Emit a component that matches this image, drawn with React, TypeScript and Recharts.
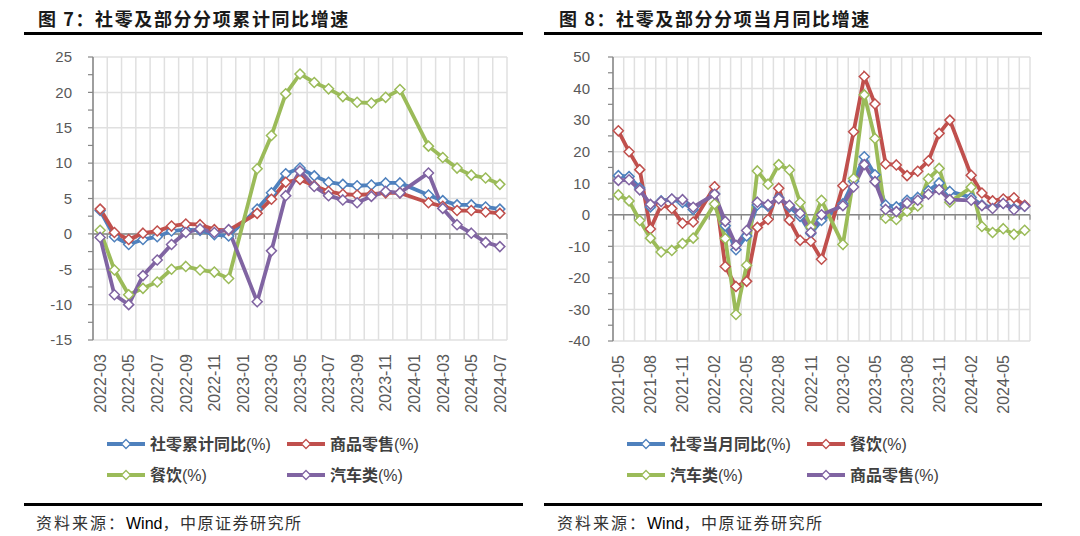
import React from 'react';
import { LineChart, Line, XAxis, YAxis, CartesianGrid, ReferenceLine, Legend } from 'recharts';

// 图7：累计同比（1月无单独数据，留空连线）
const monthsCum = [
  '2022-03', '2022-04', '2022-05', '2022-06', '2022-07', '2022-08', '2022-09', '2022-10', '2022-11', '2022-12',
  '2023-01', '2023-02', '2023-03', '2023-04', '2023-05', '2023-06', '2023-07', '2023-08', '2023-09', '2023-10',
  '2023-11', '2023-12', '2024-01', '2024-02', '2024-03', '2024-04', '2024-05', '2024-06', '2024-07',
];
const retailCum = [3.3, -0.4, -1.5, -0.8, -0.4, 0.4, 0.6, 0.5, -0.1, -0.3, null, 3.5, 5.8, 8.5, 9.3, 8.2, 7.3, 7.0, 6.8, 6.9, 7.2, 7.2, null, 5.5, 4.7, 4.1, 4.1, 3.8, 3.5];
const goodsCum = [3.5, 0.2, -0.8, 0.1, 0.4, 1.1, 1.4, 1.3, 0.6, 0.5, null, 2.9, 4.9, 7.3, 7.7, 6.8, 6.0, 5.6, 5.5, 5.6, 5.8, 5.8, null, 4.4, 3.9, 3.3, 3.3, 3.1, 2.9];
const cateringCum = [0.5, -5.1, -8.6, -7.7, -6.8, -5.0, -4.6, -5.1, -5.4, -6.3, null, 9.2, 13.9, 19.8, 22.6, 21.4, 20.5, 19.4, 18.6, 18.5, 19.3, 20.4, null, 12.4, 10.8, 9.3, 8.3, 7.9, 7.0];
const autoCum = [-0.5, -8.6, -10.0, -5.9, -3.7, -1.5, 0.2, 0.7, 0.2, 0.6, null, -9.6, -2.4, 5.4, 8.9, 6.7, 5.4, 4.8, 4.4, 5.3, 6.0, 5.8, null, 8.6, 3.6, 1.3, 0.1, -1.2, -1.8];

// 图8：当月同比
const monthsMon = [
  '2021-05', '2021-06', '2021-07', '2021-08', '2021-09', '2021-10', '2021-11', '2021-12',
  '2022-01', '2022-02', '2022-03', '2022-04', '2022-05', '2022-06', '2022-07', '2022-08', '2022-09', '2022-10', '2022-11', '2022-12',
  '2023-01', '2023-02', '2023-03', '2023-04', '2023-05', '2023-06', '2023-07', '2023-08', '2023-09', '2023-10', '2023-11', '2023-12',
  '2024-01', '2024-02', '2024-03', '2024-04', '2024-05', '2024-06', '2024-07',
];
const retailMon = [12.4, 12.1, 8.5, 2.5, 4.4, 4.9, 3.9, 1.7, null, 6.7, -3.5, -11.1, -6.7, 3.1, 2.7, 5.4, 2.5, -0.5, -5.9, -1.8, null, 3.5, 10.6, 18.4, 12.7, 3.1, 2.5, 4.6, 5.5, 7.6, 10.1, 7.4, null, 5.5, 3.1, 2.3, 3.7, 2.0, 2.7];
const cateringMon = [26.6, 20.0, 14.3, -4.5, 3.1, 2.0, -2.7, -2.3, null, 8.9, -16.4, -22.7, -21.1, -4.0, -1.5, 8.4, -1.7, -8.1, -8.4, -14.1, null, 9.2, 26.3, 43.8, 35.1, 16.1, 15.8, 12.4, 13.8, 17.1, 25.8, 30.0, null, 12.5, 6.9, 4.4, 5.0, 5.4, 3.0];
const autoMon = [6.3, 4.4, -1.8, -7.4, -11.8, -11.3, -9.1, -7.4, null, 3.4, -7.5, -31.6, -16.0, 13.9, 9.7, 15.9, 14.2, 3.9, -3.9, 4.6, null, -9.4, 11.5, 38.0, 24.2, -1.1, -1.5, 1.1, 2.8, 11.4, 14.7, 4.0, null, 8.7, -3.7, -5.6, -4.4, -6.2, -4.9];
const goodsMon = [10.9, 11.1, 7.9, 3.3, 4.2, 5.0, 4.8, 2.4, null, 6.5, -2.1, -9.7, -5.0, 4.0, 3.2, 5.1, 3.0, 0.5, -5.6, 0.0, null, 2.9, 8.8, 15.9, 10.5, 1.7, 1.0, 3.7, 4.6, 6.5, 8.0, 4.8, null, 4.6, 2.9, 2.0, 3.6, 1.6, 2.7];

const leftYTicks = [-15, -12.5, -10, -7.5, -5, -2.5, 0, 2.5, 5, 7.5, 10, 12.5, 15, 17.5, 20, 22.5, 25];
const leftYLabels = [-15, -10, -5, 0, 5, 10, 15, 20, 25];
const rightYTicks = [-40, -35, -30, -25, -20, -15, -10, -5, 0, 5, 10, 15, 20, 25, 30, 35, 40, 45, 50];
const rightYLabels = [-40, -30, -20, -10, 0, 10, 20, 30, 40, 50];

const BLUE = '#4f81bd';
const RED = '#c0504d';
const GREEN = '#9bbb59';
const PURPLE = '#8064a2';

const CJK = '"Noto Sans CJK SC", "Noto Sans", sans-serif';
const LATIN = '"Liberation Sans", Arial, sans-serif';
const AXIS_GRAY = '#868686';
const LABEL_GRAY = '#595959';

type Series = { name: string; color: string; values: (number | null)[] };

const diamond = (color: string) => (p: any) => {
  const { cx, cy, index, value } = p;
  if (cx == null || cy == null || value == null) return <g key={`n-${index}`} />;
  const r = 5;
  return (
    <path
      key={`d-${index}`}
      d={`M${cx},${cy - r}L${cx + r},${cy}L${cx},${cy + r}L${cx - r},${cy}Z`}
      fill="#fff"
      stroke={color}
      strokeWidth={1.5}
    />
  );
};

const xTick = (labels: string[]) => (p: any) => {
  const { x, y, payload } = p;
  return (
    <text
      x={x}
      y={y}
      dy="0.36em"
      transform={`rotate(-90, ${x}, ${y})`}
      textAnchor="end"
      fill={LABEL_GRAY}
      fontSize={16}
      fontFamily={LATIN}
    >
      {labels[payload.value]}
    </text>
  );
};

const legendCols = [107, 287];

// legend follows the series order (2 per row), like the Excel original
const legendBox = (series: Series[]) => () => (
  <div style={{ position: 'relative', width: 540, height: 60 }}>
    {series.map((s, i) => (
      <div
        key={s.name}
        style={{
          position: 'absolute',
          left: legendCols[i % 2],
          top: Math.floor(i / 2) * 31,
          height: 24,
          display: 'flex',
          alignItems: 'center',
          whiteSpace: 'nowrap',
        }}
      >
        <svg width={38} height={12}>
          <line x1={0} y1={6} x2={38} y2={6} stroke={s.color} strokeWidth={4} />
          <path d="M19,1.5L23.5,6L19,10.5L14.5,6Z" fill="#fff" stroke={s.color} strokeWidth={1.3} />
        </svg>
        <span style={{ marginLeft: 5, fontFamily: CJK, fontWeight: 700, fontSize: 16, color: '#404040', lineHeight: '24px' }}>
          {s.name}
          <span style={{ fontFamily: LATIN, fontWeight: 400 }}>(%)</span>
        </span>
      </div>
    ))}
  </div>
);

function Panel(props: {
  left: number;
  title: string;
  months: string[];
  series: Series[];
  yTicks: number[];
  yLabels: number[];
  labelStep: number;
  plotBottom: number;
  marginRight: number;
  tickMargin: number;
  ruleLeft: number;
  ruleWidth: number;
  titleLeft: number;
  sourceLeft: number;
}) {
  const { months, series, yTicks, yLabels, labelStep } = props;
  const data = months.map((m, i) => {
    const row: any = { idx: i, month: m };
    series.forEach((s, k) => (row[`s${k}`] = s.values[i]));
    return row;
  });
  const n = months.length;
  const bounds = Array.from({ length: n + 1 }, (_, i) => i - 0.5);
  const xLabelIdx = months.map((_, i) => i).filter((i) => i % labelStep === 0);
  const yMin = yTicks[0];
  const yMax = yTicks[yTicks.length - 1];
  const H = 536;
  const plotTop = 57;
  const tickLen = (5 * (yMax - yMin)) / (props.plotBottom - plotTop);

  return (
    <>
      <div
        style={{
          position: 'absolute', left: props.titleLeft, top: 8, fontFamily: CJK, fontWeight: 700,
          fontSize: 18, letterSpacing: 1.6, lineHeight: '20px', color: '#1a1a1a', whiteSpace: 'nowrap',
        }}
      >
        {props.title}
      </div>
      <div style={{ position: 'absolute', left: props.ruleLeft, top: 32, width: props.ruleWidth, height: 2.5, background: '#000' }} />
      <div style={{ position: 'absolute', left: props.left, top: 0 }}>
        <LineChart
          width={540}
          height={H}
          data={data}
          margin={{ top: plotTop, right: props.marginRight, left: 33, bottom: H - props.plotBottom - 80 }}
        >
          <CartesianGrid
            stroke="#e0e0e0"
            strokeWidth={1.5}
            horizontalValues={yLabels}
            verticalValues={bounds}
          />
          <XAxis
            dataKey="idx"
            type="number"
            domain={[-0.5, n - 0.5]}
            ticks={xLabelIdx}
            interval={0}
            height={80}
            axisLine={false}
            tickLine={false}
            tickSize={0}
            tickMargin={14}
            tick={xTick(months)}
          />
          <YAxis
            width={60}
            domain={[yMin, yMax]}
            ticks={yTicks}
            interval={0}
            allowDataOverflow
            axisLine={{ stroke: AXIS_GRAY, strokeWidth: 1.5 }}
            tickLine={{ stroke: AXIS_GRAY, strokeWidth: 1.2 }}
            tickSize={5}
            tickMargin={props.tickMargin}
            tickFormatter={(v: number) => (yLabels.includes(v) ? String(v) : '')}
            tick={{ fill: LABEL_GRAY, fontSize: 15, fontFamily: LATIN }}
          />
          <ReferenceLine y={0} stroke={AXIS_GRAY} strokeWidth={1.5} />
          {bounds.map((b) => (
            <ReferenceLine
              key={`t${b}`}
              segment={[{ x: b, y: 0 }, { x: b, y: -tickLen }]}
              stroke={AXIS_GRAY}
              strokeWidth={1.2}
              ifOverflow="visible"
            />
          ))}
          <Legend
            verticalAlign="middle"
            align="center"
            layout="horizontal"
            wrapperStyle={{ left: 0, top: 432, width: 540, height: 60 }}
            content={legendBox(series)}
          />
          {series.map((s, k) => (
            <Line
              key={s.name}
              name={s.name}
              dataKey={`s${k}`}
              type="linear"
              stroke={s.color}
              strokeWidth={3.8}
              connectNulls
              dot={diamond(s.color)}
              activeDot={false}
              isAnimationActive={false}
            />
          ))}
        </LineChart>
      </div>
      <div style={{ position: 'absolute', left: props.ruleLeft, top: 503, width: props.ruleWidth, height: 2.5, background: '#000' }} />
      <div
        style={{
          position: 'absolute', left: props.sourceLeft, top: 512, fontFamily: CJK, fontSize: 16,
          lineHeight: '20px', color: '#333', whiteSpace: 'nowrap',
        }}
      >
        <span style={{ letterSpacing: 2 }}>资料来源：</span>
        <span style={{ fontFamily: LATIN, color: '#000' }}>Wind</span>
        <span style={{ letterSpacing: 1.5 }}>，中原证券研究所</span>
      </div>
    </>
  );
}

export default function App() {
  return (
    <div style={{ position: 'absolute', left: 0, top: 0, width: 1080, height: 536, background: '#fff', overflow: 'hidden' }}>
      <Panel
        left={0}
        title="图 7：社零及部分分项累计同比增速"
        months={monthsCum}
        series={[
          { name: '社零累计同比', color: BLUE, values: retailCum },
          { name: '商品零售', color: RED, values: goodsCum },
          { name: '餐饮', color: GREEN, values: cateringCum },
          { name: '汽车类', color: PURPLE, values: autoCum },
        ]}
        yTicks={leftYTicks}
        yLabels={leftYLabels}
        labelStep={2}
        plotBottom={340}
        marginRight={33}
        tickMargin={16}
        ruleLeft={24}
        ruleWidth={499}
        titleLeft={38}
        sourceLeft={36}
      />
      <Panel
        left={520}
        title="图 8：社零及部分分项当月同比增速"
        months={monthsMon}
        series={[
          { name: '社零当月同比', color: BLUE, values: retailMon },
          { name: '餐饮', color: RED, values: cateringMon },
          { name: '汽车类', color: GREEN, values: autoMon },
          { name: '商品零售', color: PURPLE, values: goodsMon },
        ]}
        yTicks={rightYTicks}
        yLabels={rightYLabels}
        labelStep={3}
        plotBottom={341}
        marginRight={30}
        tickMargin={18}
        ruleLeft={544}
        ruleWidth={498}
        titleLeft={559}
        sourceLeft={557}
      />
    </div>
  );
}
